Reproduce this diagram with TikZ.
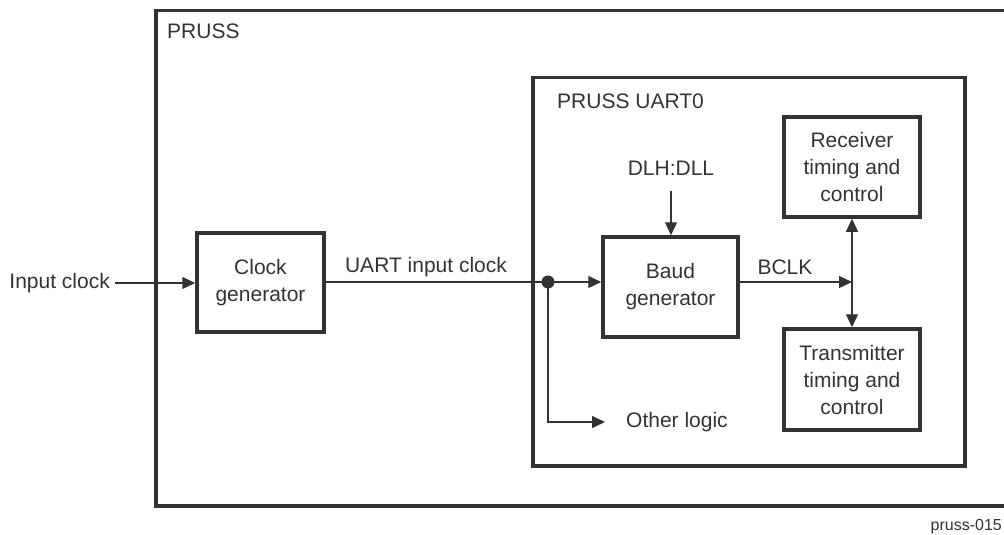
\documentclass[tikz,border=0pt]{standalone}
\usepackage{fontspec}
\setmainfont{Liberation Sans}
\usetikzlibrary{arrows.meta}
\definecolor{dk}{HTML}{333333}
\begin{document}
\begin{tikzpicture}[x=1pt,y=-1pt,
  every node/.style={text=dk, font=\fontsize{21}{27}\selectfont},
  blk/.style={draw=dk, line width=3.5pt, align=center, inner sep=0pt},
  frame/.style={draw=dk, line width=3.5pt, inner sep=0pt, anchor=north west},
  lbl/.style={inner sep=0pt},
  conn/.style={draw=dk, line width=1.3pt, -{Triangle[length=13pt,width=12pt]}},
  bidir/.style={draw=dk, line width=1.3pt, {Triangle[length=13pt,width=12pt]}-{Triangle[length=13pt,width=12pt]}}]
\useasboundingbox (0,0) rectangle (1004,535);
\clip (0,0) rectangle (1004,535);
% frames
\node[frame, minimum width=858pt, minimum height=495pt] (pruss) at (154,9) {};
\node[frame, minimum width=432pt, minimum height=388pt] (uart) at (531,76) {};
\node[lbl, anchor=west] (prusslbl) at (167,31) {PRUSS};
\node[lbl, anchor=west] (uartlbl) at (557,101) {PRUSS UART0};
% blocks
\node[blk, minimum width=127pt, minimum height=99pt] (cg) at (260.5,282.5) {Clock\\generator};
\node[blk, minimum width=135pt, minimum height=100pt] (baud) at (670.5,287) {Baud\\generator};
\node[blk, minimum width=136pt, minimum height=100pt] (rx) at (852,167) {Receiver\\timing and\\control};
\node[blk, minimum width=136pt, minimum height=101pt] (tx) at (852,379.5) {Transmitter\\timing and\\control};
% labels
\node[lbl, anchor=east] (ic) at (110,283) {Input clock};
\node[lbl] (uic) at (426,267) {UART input clock};
\node[lbl] (dlh) at (671,168) {DLH:DLL};
\node[lbl] (bclk) at (785,267) {BCLK};
\node[lbl, anchor=west] (ol) at (626,422) {Other logic};
\node[lbl, anchor=east, font=\fontsize{16}{19}\selectfont] (fig) at (1002,527) {pruss-015};
% junctions
\coordinate (dot) at (548,282);
\coordinate (bus) at (852,282);
% connectors
\draw[conn] (ic.east) ++(5,0) -- (ic.east -| cg.west);
\draw[draw=dk, line width=1.3pt] (cg.east |- dot) -- (dot);
\draw[conn] (dot) -- (dot -| baud.west);
\draw[conn] (dot) |- ([xshift=-21pt]ol.west);
\fill[dk] (dot) circle (6.5pt);
\draw[conn, shorten <=16pt] (dlh.south) -- (dlh.south |- baud.north);
\draw[conn] (baud.east |- bus) -- (bus);
\draw[bidir] (rx.south) -- (tx.north);
\end{tikzpicture}
\end{document}
